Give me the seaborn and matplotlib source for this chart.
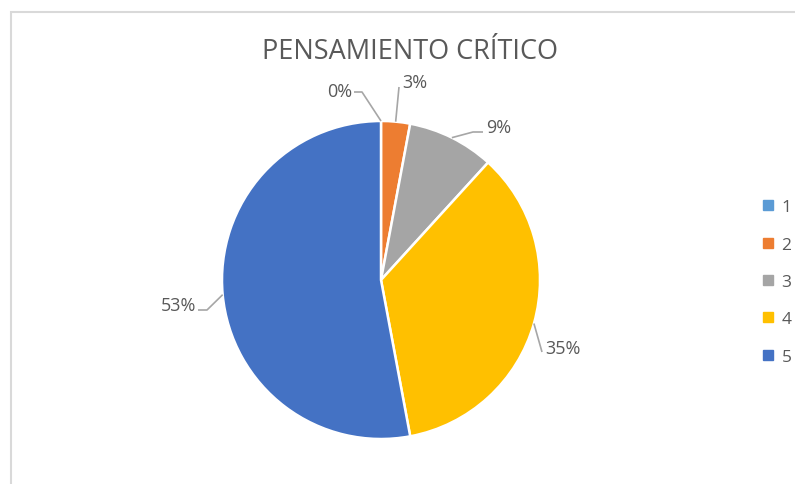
import numpy as np
import matplotlib
matplotlib.use("Agg")
import matplotlib.pyplot as plt
import seaborn as sns
from matplotlib.lines import Line2D
from matplotlib.patches import Rectangle

# datos (numero de respuestas por nivel)
categorias = ["1", "2", "3", "4", "5"]
respuestas = [0, 1, 3, 12, 18]
colores = ["#5B9BD5", "#ED7D31", "#A5A5A5", "#FFC000", "#4472C4"]
titulo = "PENSAMIENTO CRÍTICO"

sns.set_theme(style="white")
plt.rcParams["font.family"] = ["Open Sans", "DejaVu Sans"]
gris = "#595959"

fig = plt.figure(figsize=(7.95, 4.85), dpi=100)
ax = fig.add_axes([0, 0, 1, 1])

wedges, _ = ax.pie(respuestas, colors=colores, startangle=90, counterclock=False,
                   radius=1, center=(0, 0), frame=True,
                   wedgeprops=dict(edgecolor="white", linewidth=1.8))
# 1 unidad = 159 px, centro del pastel en (381, 281) px
ax.set_xlim(-381 / 159, (795 - 381) / 159)
ax.set_ylim(-(485 - 281) / 159, 281 / 159)
ax.set_aspect("auto")
ax.axis("off")

total = sum(respuestas)
pct = [round(100 * v / total) for v in respuestas]

# posicion de etiquetas (px) y codo de la linea guia
def px(x, y):
    return (x - 381) / 159, (281 - y) / 159

etiquetas = [
    dict(txt=px(352, 92), ha="right", codo=[px(362, 93), px(354, 93)]),
    dict(txt=px(402, 83), ha="left", codo=[px(399, 88)]),
    dict(txt=px(486, 128), ha="left", codo=[px(473, 133), px(483, 133)]),
    dict(txt=px(545, 349), ha="left", codo=[px(542, 353)]),
    dict(txt=px(196, 306), ha="right", codo=[px(207, 311), px(198, 311)]),
]

for w, p, et in zip(wedges, pct, etiquetas):
    ang = np.deg2rad((w.theta1 + w.theta2) / 2)
    ancla = (np.cos(ang), np.sin(ang))
    pts = [ancla] + et["codo"]
    ax.plot([q[0] for q in pts], [q[1] for q in pts], color="#A6A6A6", lw=1.2,
            solid_capstyle="butt")
    ax.text(et["txt"][0], et["txt"][1], f"{p}%", ha=et["ha"], va="center",
            fontsize=13, color=gris)

fig.text(410 / 795, 1 - 52 / 485, titulo, ha="center", va="center",
         fontsize=19.5, color=gris)

handles = [Line2D([], [], marker="s", ls="", color=c, markersize=6.5) for c in colores]
leg = fig.legend(handles, categorias, loc="center left",
                 bbox_to_anchor=(752 / 795, 1 - 283 / 485), frameon=False,
                 fontsize=12.5, labelspacing=1.22, handlelength=0.8,
                 handletextpad=0.4, borderpad=0)
for t in leg.get_texts():
    t.set_color(gris)

fig.patches.append(Rectangle((11 / 795, -0.1), 1.2, 1.1 - 13 / 485,
                             transform=fig.transFigure, fill=False,
                             edgecolor="#D9D9D9", lw=1.5))

fig.savefig("out.png", dpi=100, facecolor="white")
